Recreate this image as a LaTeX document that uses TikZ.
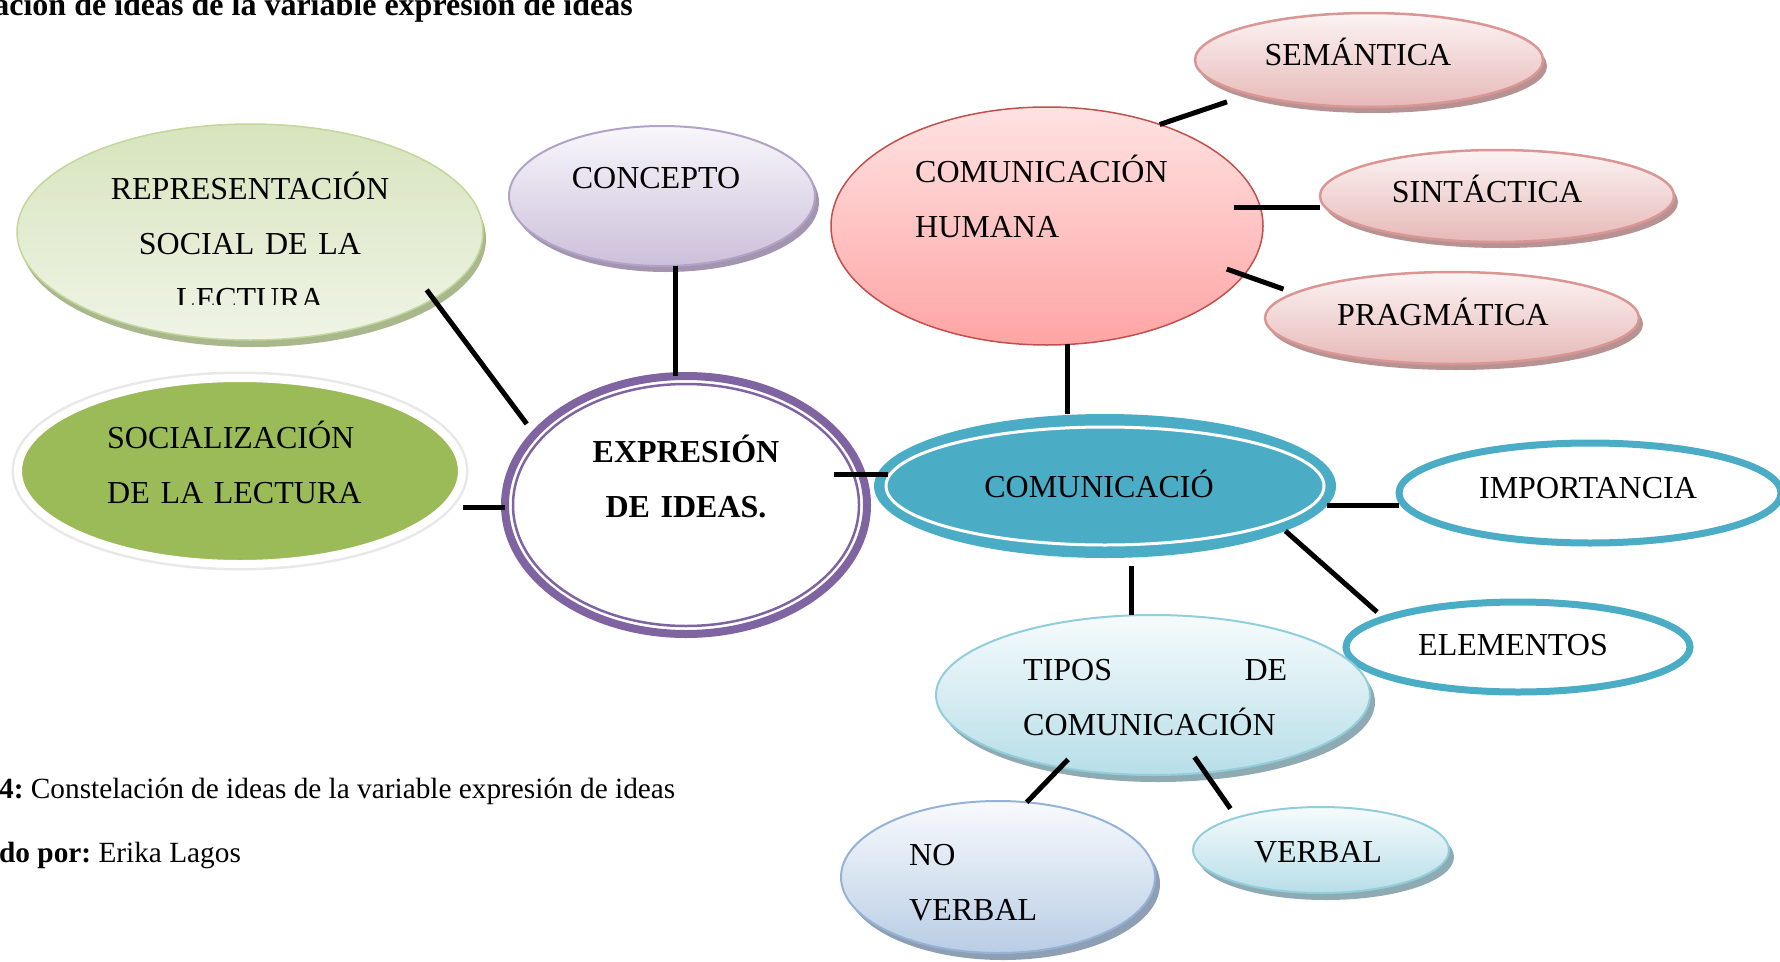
\documentclass[tikz,border=0pt]{standalone}
\usepackage{fontspec}
\setmainfont{Liberation Serif}
\usepackage{tikz}
\usetikzlibrary{shapes.geometric}
\usetikzlibrary{shadows}

\definecolor{repline}{HTML}{C3D69B}
\definecolor{reptop}{HTML}{D7E4BD}
\definecolor{repbottom}{HTML}{EFF4E6}
\definecolor{repshadow}{HTML}{A8B78C}
\definecolor{socgreen}{HTML}{9BBB59}
\definecolor{conline}{HTML}{B3A2C7}
\definecolor{contop}{HTML}{F8F7FB}
\definecolor{conbottom}{HTML}{CCC0DA}
\definecolor{conshadow}{HTML}{A395B0}
\definecolor{exprline}{HTML}{8064A2}
\definecolor{humline}{HTML}{C0504D}
\definecolor{humtop}{HTML}{FFE2E2}
\definecolor{humbottom}{HTML}{FFA4A4}
\definecolor{pinkline}{HTML}{D99694}
\definecolor{pinktop}{HTML}{FCF3F3}
\definecolor{pinkbottom}{HTML}{E6B9B8}
\definecolor{pinkshadow}{HTML}{B69392}
\definecolor{comublue}{HTML}{4BACC6}
\definecolor{tipline}{HTML}{92CDDC}
\definecolor{tiptop}{HTML}{F6FBFC}
\definecolor{tipbottom}{HTML}{B7DEE8}
\definecolor{tipshadow}{HTML}{8EAAB3}
\definecolor{novline}{HTML}{95B3D7}
\definecolor{novtop}{HTML}{F8FAFD}
\definecolor{novbottom}{HTML}{B9CDE5}
\definecolor{novshadow}{HTML}{8E9FB4}

\begin{document}
\begin{tikzpicture}[x=1pt,y=-1pt]

\tikzstyle{blob} = [ellipse, inner sep=0pt, outer sep=0pt]
\tikzstyle{txt} = [inner sep=0pt, font=\fontsize{32}{55}\selectfont]
\tikzstyle{boldtxt} = [inner sep=0pt, font=\fontsize{32}{55}\selectfont\bfseries]
\tikzstyle{captxt} = [inner sep=0pt, font=\fontsize{29.3}{34}\selectfont\frenchspacing]
\tikzstyle{link} = [line width=5pt]
\tikzstyle{repnode} = [blob, draw=repline, line width=1.5pt, top color=reptop, bottom color=repbottom, drop shadow={shadow xshift=3pt, shadow yshift=-7pt, opacity=1, fill=repshadow}]
\tikzstyle{socnode} = [blob, fill=socgreen, draw=white, line width=8pt, preaction={draw=black!9, line width=13pt}]
\tikzstyle{connode} = [blob, draw=conline, line width=2pt, top color=contop, bottom color=conbottom, drop shadow={shadow xshift=4pt, shadow yshift=-6pt, opacity=1, fill=conshadow}]
\tikzstyle{exprnode} = [blob, fill=white, draw=exprline, line width=8pt]
\tikzstyle{exprinner} = [blob, draw=exprline, line width=2.5pt]
\tikzstyle{humnode} = [blob, draw=humline, line width=1.5pt, top color=humtop, bottom color=humbottom]
\tikzstyle{pinknode} = [blob, draw=pinkline, line width=2.5pt, top color=pinktop, bottom color=pinkbottom, drop shadow={shadow xshift=4pt, shadow yshift=-6pt, opacity=1, fill=pinkshadow}]
\tikzstyle{comunode} = [blob, fill=comublue]
\tikzstyle{comuinner} = [blob, draw=white, line width=3pt]
\tikzstyle{ringnode} = [blob, fill=white, draw=comublue, line width=7pt]
\tikzstyle{tipnode} = [blob, draw=tipline, line width=2pt, top color=tiptop, bottom color=tipbottom, drop shadow={shadow xshift=5pt, shadow yshift=-7pt, opacity=1, fill=tipshadow}]
\tikzstyle{novnode} = [blob, draw=novline, line width=2pt, top color=novtop, bottom color=novbottom, drop shadow={shadow xshift=5pt, shadow yshift=-7pt, opacity=1, fill=novshadow}]

\useasboundingbox (0,0) rectangle (1780,961);
\clip (0,0) rectangle (1780,961);

\node [boldtxt, anchor=base east] (title) at (633,15) {ación de ideas de la variable expresión de ideas};

\node [repnode, minimum width=466pt, minimum height=216pt] (rep) at (250,232) {};
\node [socnode, minimum width=444pt, minimum height=186pt] (soc) at (240,471) {};
\node [connode, minimum width=306pt, minimum height=140pt] (concepto) at (662,196) {};
\node [exprnode, minimum width=362pt, minimum height=258pt] (expr) at (686,505) {};
\node [exprinner, minimum width=346pt, minimum height=242pt] (exprin) at (expr.center) {};
\node [humnode, minimum width=432pt, minimum height=238pt] (humana) at (1047,226) {};
\node [pinknode, minimum width=348pt, minimum height=94pt] (sem) at (1369,60) {};
\node [pinknode, minimum width=354pt, minimum height=92pt] (sin) at (1497,196) {};
\node [pinknode, minimum width=374pt, minimum height=92pt] (prag) at (1452,318) {};
\node [comunode, minimum width=462pt, minimum height=144pt] (comu) at (1105,486) {};
\node [comuinner, minimum width=438pt, minimum height=118pt] (comuin) at (comu.center) {};
\node [ringnode, minimum width=382pt, minimum height=100pt] (imp) at (1590,493) {};
\node [ringnode, minimum width=344pt, minimum height=90pt] (elem) at (1518,647) {};
\node [tipnode, minimum width=434pt, minimum height=160pt] (tipos) at (1153,695) {};
\node [novnode, minimum width=314pt, minimum height=152pt] (nov) at (998,877) {};
\node [tipnode, minimum width=256pt, minimum height=86pt] (ver) at (1321,850) {};

\begin{scope}
  \clip (0,0) rectangle (1780,304);
  \node [txt, anchor=base, text width=320pt, align=center] (repT) at (250,199) {REPRESENTACIÓN\\SOCIAL DE LA\\LECTURA};
\end{scope}
\node [txt, anchor=base west, text width=280pt, align=left] (socT) at (107,448) {SOCIALIZACIÓN\\DE LA LECTURA};
\node [txt, anchor=base] (conceptoT) at (656,188) {CONCEPTO};
\node [boldtxt, anchor=base, text width=240pt, align=center] (exprT) at (686,462) {EXPRESIÓN\\DE IDEAS.};
\node [txt, anchor=base west, text width=280pt, align=left] (humanaT) at (915,182) {COMUNICACIÓN\\HUMANA};
\node [txt, anchor=base] (semT) at (1358,65) {SEMÁNTICA};
\node [txt, anchor=base] (sinT) at (1487,202) {SINTÁCTICA};
\node [txt, anchor=base] (pragT) at (1443,325) {PRAGMÁTICA};
\node [txt, anchor=base] (comuT) at (1099,497) {COMUNICACIÓ};
\node [txt, anchor=base] (impT) at (1588,498) {IMPORTANCIA};
\node [txt, anchor=base] (elemT) at (1513,655) {ELEMENTOS};
\node [txt, anchor=base west, text width=264pt, align=left] (tiposT) at (1023,680) {TIPOS\hfill DE\\COMUNICACIÓN};
\node [txt, anchor=base west, text width=200pt, align=left] (novT) at (909,865) {NO\\VERBAL};
\node [txt, anchor=base] (verT) at (1318,862) {VERBAL};

\node [captxt, anchor=base west] (cap) at (-1,798) {\textbf{4:} Constelación de ideas de la variable expresión de ideas};
\node [captxt, anchor=base west] (autor) at (-1,862) {\textbf{do por:} Erika Lagos};

\draw [link, shorten <=-11pt, shorten >=13pt] (rep.-20.5) -- (expr.155.3);
\draw [link, shorten <=18pt] (soc.-10) -- (soc.-10 -| expr.west);
\draw [link] (concepto.-79) -- (concepto.-79 |- expr.north);
\draw [link, shorten <=-28pt, shorten >=-14pt] (expr.10) -- (expr.10 -| comu.west);
\draw [link, shorten >=24pt] (humana.42) -- (sem.196);
\draw [link, shorten <=-26pt] (humana.5) -- (humana.5 -| sin.west);
\draw [link, shorten <=-18pt, shorten >=12pt] (humana.-14) -- (prag.171);
\draw [link] (humana.-80) -- (humana.-80 |- comu.north);
\draw [link] (comu.-5) -- (comu.-5 -| imp.west);
\draw [link, shorten >=10pt] (comu.-14) -- (elem.168);
\draw [link, shorten >=8pt] (tipos.105) -- (tipos.105 |- comu.south);
\draw [link, shorten <=-11pt] (tipos.218) -- (nov.69);
\draw [link, shorten <=-19pt, shorten >=11pt] (tipos.-56) -- (ver.159);

\end{tikzpicture}
\end{document}
